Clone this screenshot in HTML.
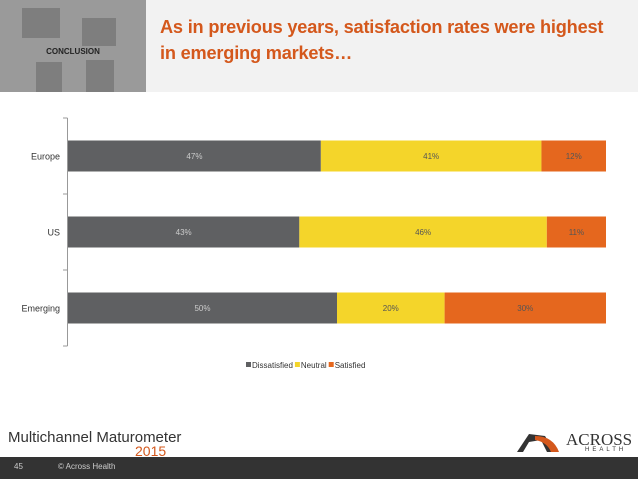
<!DOCTYPE html>
<html><head><meta charset="utf-8"><style>
body{margin:0;width:638px;height:479px;overflow:hidden;background:#fff;font-family:"Liberation Sans",sans-serif;position:relative}
.hdr{position:absolute;left:0;top:0;width:638px;height:92px;background:#f2f2f2}
.pic{position:absolute;left:0;top:0;width:146px;height:92px;background:#9a9a9a}
.title{position:absolute;left:160px;top:14px;color:#d4581c;font-size:18.2px;font-weight:bold;line-height:26px;font-family:"Liberation Sans",sans-serif;letter-spacing:-0.2px;white-space:nowrap}
.footer{position:absolute;left:0;top:457px;width:638px;height:22px;background:#333}
</style></head><body>
<div class="hdr"></div>
<div class="pic">
<div style="position:absolute;left:22px;top:8px;width:38px;height:30px;background:#7e7e7e"></div>
<div style="position:absolute;left:82px;top:18px;width:34px;height:28px;background:#7e7e7e"></div>
<div style="position:absolute;left:36px;top:62px;width:26px;height:30px;background:#7e7e7e"></div>
<div style="position:absolute;left:86px;top:60px;width:28px;height:32px;background:#7e7e7e"></div>
<div style="position:absolute;left:0;top:47px;width:146px;text-align:center;font-size:8px;color:#222;font-weight:bold">CONCLUSION</div>
</div>
<div class="title">As in previous years, satisfaction rates were highest<br>in emerging markets…</div>
<svg id="chart" width="638" height="400" style="position:absolute;left:0;top:0"></svg>
<div style="position:absolute;left:8px;top:429px;font-size:15px;color:#333">Multichannel Maturometer</div>
<div style="position:absolute;left:135px;top:443px;font-size:14px;color:#d4581c">2015</div>
<svg width="50" height="24" style="position:absolute;left:515px;top:430px"><path d="M2 22 L14 4 L30 6 L40 22 L32 22 L26 10 L14 12 L8 22Z" fill="#333"/><path d="M20 6 Q38 6 44 22 L36 22 Q32 12 20 10Z" fill="#d4581c"/></svg>
<div style="position:absolute;left:566px;top:430px;font-size:17px;color:#333;font-family:'Liberation Serif',serif">ACROSS</div>
<div style="position:absolute;left:585px;top:447px;font-size:6px;letter-spacing:3px;color:#333">HEALTH</div>
<div class="footer">
<span style="position:absolute;left:14px;top:5px;font-size:8px;color:#ccc">45</span>
<span style="position:absolute;left:58px;top:5px;font-size:8px;color:#ccc">© Across Health</span>
</div>
<script>
const categories=["Europe","US","Emerging"];
const seriesNames=["Dissatisfied","Neutral","Satisfied"];
const dissatisfied=[47,43,50];
const neutral=[41,46,20];
const satisfied=[12,11,30];
const colors=["#5f6062","#f4d52a","#e5671e"];
const svg=document.getElementById('chart');
const NS="http://www.w3.org/2000/svg";
const x0=68,plotW=538,yTop=118,bandH=76,barH=31;
const xs=v=>x0+v/100*plotW;
const yb=i=>yTop+i*bandH+(bandH-barH)/2;
function mk(t,a){const e=document.createElementNS(NS,t);for(const k in a)e.setAttribute(k,a[k]);svg.appendChild(e);return e;}
const ax=mk('line',{x1:67.5,x2:67.5,y1:yTop,y2:yTop+3*bandH,stroke:'#999'});


for(let i=0;i<=3;i++){const t=mk('line',{x1:63,x2:67.5,y1:yTop+i*bandH,y2:yTop+i*bandH,stroke:'#999'});

}
const series=[dissatisfied,neutral,satisfied];
categories.forEach((c,i)=>{
 const l=mk('text',{x:60,y:yb(i)+barH/2+3.5,'text-anchor':'end','font-size':9,fill:'#333'});l.textContent=c;
 
 
 let acc=0;
 series.forEach((s,j)=>{
  const r=mk('rect',{x:xs(acc),y:yb(i),width:xs(acc+s[i])-xs(acc),height:barH,fill:colors[j]});
  
  
  const t=mk('text',{x:(xs(acc)+xs(acc+s[i]))/2,y:yb(i)+barH/2+3,'text-anchor':'middle','font-size':8,fill:j==0?'#ccc':'#555'});
  t.textContent=s[i]+'%';
  
  
  acc+=s[i];
 });
});
let lx=246;
seriesNames.forEach((n,j)=>{
 const r=mk('rect',{x:lx,y:362,width:5,height:5,fill:colors[j]});
 
 
 const t=mk('text',{x:lx+6,y:368,'font-size':8,fill:'#333'});t.textContent=n;
 
 
 lx+=6+t.getComputedTextLength()+2;
});
</script>
</body></html>
